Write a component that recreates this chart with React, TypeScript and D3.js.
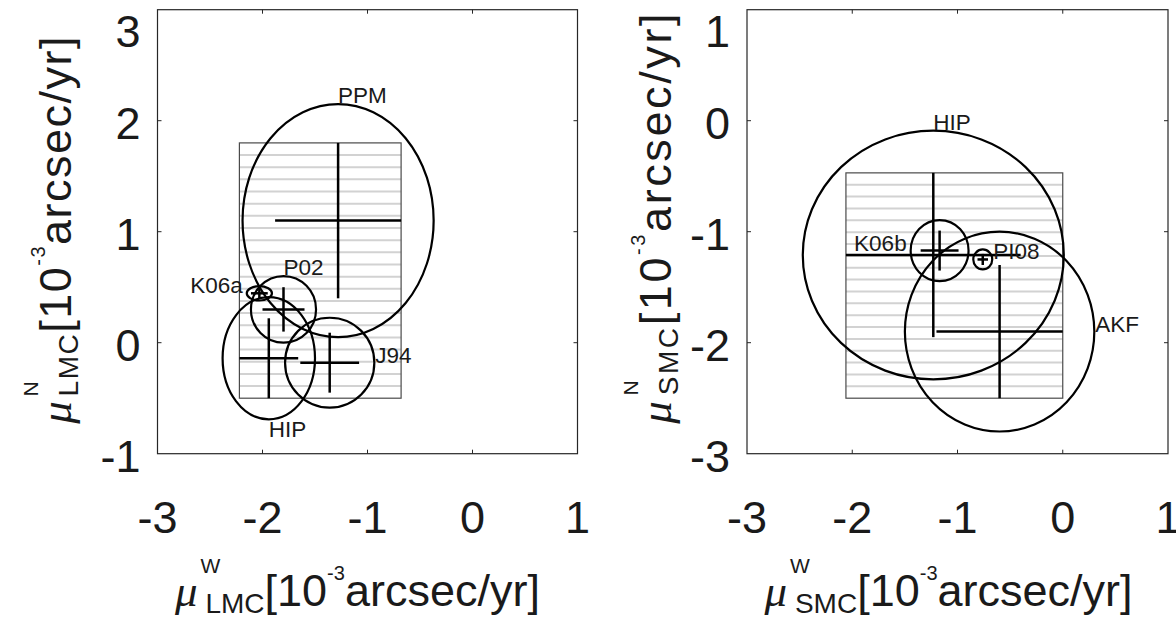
import React from "react";
import * as d3 from "d3";

// LMC proper-motion measurements (10^-3 arcsec/yr)
const lmcNames = ["PPM", "P02", "K06a", "HIP", "J94"];
const lmcW = [-1.28, -1.8, -2.03, -1.94, -1.36];
const lmcN = [1.1, 0.3, 0.445, -0.14, -0.18];
const lmcErrW = [0.6, 0.2, 0.08, 0.28, 0.28];
const lmcErrN = [0.7, 0.2, 0.045, 0.36, 0.27];
const lmcRadW = [0.91, 0.31, 0.12, 0.44, 0.425];
const lmcRadN = [1.05, 0.3, 0.065, 0.55, 0.405];
const lmcSide = ["top", "top", "left", "bottom", "right"];

// SMC
const smcNames = ["HIP", "K06b", "PI08", "AKF"];
const smcW = [-1.23, -1.17, -0.76, -0.6];
const smcN = [-1.21, -1.17, -1.25, -1.9];
const smcErrW = [0.83, 0.18, 0.05, 0.6];
const smcErrN = [0.74, 0.18, 0.05, 0.6];
const smcRadW = [1.24, 0.275, 0.09, 0.9];
const smcRadN = [1.12, 0.275, 0.09, 0.9];
const smcSide = ["top", "left", "right", "right"];

const xTicks = [-3, -2, -1, 0, 1];
const lmcYTicks = [-1, 0, 1, 2, 3];
const smcYTicks = [-3, -2, -1, 0, 1];

const SANS = "'Liberation Sans', Arial, Helvetica, sans-serif";
const INK = "#1a1a1a";

function AxisLabel({ x, y, sub, sup, rotate, spacing = 0 }) {
    return (
        <text
            transform={`translate(${x},${y})${rotate ? " rotate(-90)" : ""}`}
            fontSize={45}
            fontFamily={SANS}
            fill={INK}
            letterSpacing={spacing}
        >
            <tspan fontFamily="'Liberation Serif', serif" fontStyle="italic">
                μ
            </tspan>
            <tspan fontSize={21} dx={3} dy={-33}>
                {sup}
            </tspan>
            <tspan fontSize={28} dx={-15 - spacing} dy={40}>
                {sub}
            </tspan>
            <tspan dy={-7}>[10</tspan>
            <tspan fontSize={20} dy={-26}>
                -3
            </tspan>
            <tspan dy={26}>arcsec/yr]</tspan>
        </text>
    );
}

function Panel({ xRange, yDomain, yTicks, names, w, n, errW, errN, radW, radN, side, sub, yLabDx, yLabSp }) {
    const x = d3.scaleLinear().domain([-3, 1]).range(xRange);
    const y = d3.scaleLinear().domain(yDomain).range([453.7, 9.7]);
    const [x0, x1] = x.range();
    const [yb, yt] = y.range();

    const idx = d3.range(names.length);
    // shaded envelope of all error bars
    const bx0 = x(d3.min(idx, (i) => w[i] - errW[i]));
    const bx1 = x(d3.max(idx, (i) => w[i] + errW[i]));
    const by0 = y(d3.max(idx, (i) => n[i] + errN[i]));
    const by1 = y(d3.min(idx, (i) => n[i] - errN[i]));
    const nh = Math.round((by1 - by0) / 12);
    const hatch = d3.range(1, nh).map((k) => by0 + ((by1 - by0) * k) / nh);

    const label = (i) => {
        const cx = x(w[i]);
        const cy = y(n[i]);
        const rx = x(w[i] + radW[i]) - cx;
        const ry = cy - y(n[i] + radN[i]);
        if (side[i] === "top") return { tx: cx, ty: cy - ry - 1, anchor: "start" };
        if (side[i] === "bottom") return { tx: cx, ty: cy + ry + 18, anchor: "start" };
        if (side[i] === "left") return { tx: cx - rx - 4, ty: cy, anchor: "end" };
        return { tx: cx + rx + 1, ty: cy, anchor: "start" };
    };

    const inner = xTicks.filter((t) => t > -3 && t < 1);
    const innerY = yTicks.filter((t) => t > yDomain[0] && t < yDomain[1]);

    return (
        <g>
            {hatch.map((hy, k) => (
                <line key={k} x1={bx0} x2={bx1} y1={hy} y2={hy} stroke="#d2d2d2" strokeWidth={2} />
            ))}
            <rect x={bx0} y={by0} width={bx1 - bx0} height={by1 - by0} fill="none" stroke="#4a4a4a" strokeWidth={1.2} />

            {idx.map((i) => (
                <ellipse
                    key={"e" + i}
                    cx={x(w[i])}
                    cy={y(n[i])}
                    rx={x(w[i] + radW[i]) - x(w[i])}
                    ry={y(n[i]) - y(n[i] + radN[i])}
                    fill="none"
                    stroke="#000"
                    strokeWidth={2.2}
                />
            ))}
            {idx.map((i) => (
                <g key={"c" + i} stroke="#000" strokeWidth={2.5}>
                    <line x1={x(w[i] - errW[i])} x2={x(w[i] + errW[i])} y1={y(n[i])} y2={y(n[i])} />
                    <line x1={x(w[i])} x2={x(w[i])} y1={y(n[i] - errN[i])} y2={y(n[i] + errN[i])} />
                </g>
            ))}
            {idx.map((i) => {
                const l = label(i);
                return (
                    <text key={"t" + i} x={l.tx} y={l.ty} textAnchor={l.anchor} fontSize={22.5} fontFamily={SANS} fill={INK}>
                        {names[i]}
                    </text>
                );
            })}

            {/* axes box with inward ticks */}
            <rect x={x0} y={yt} width={x1 - x0} height={yb - yt} fill="none" stroke="#262626" strokeWidth={1.2} />
            {inner.map((t) => (
                <g key={"xt" + t} stroke="#262626" strokeWidth={1}>
                    <line x1={x(t)} x2={x(t)} y1={yb} y2={yb - 4} />
                    <line x1={x(t)} x2={x(t)} y1={yt} y2={yt + 4} />
                </g>
            ))}
            {innerY.map((t) => (
                <g key={"yt" + t} stroke="#262626" strokeWidth={1}>
                    <line x1={x0} x2={x0 + 4} y1={y(t)} y2={y(t)} />
                    <line x1={x1} x2={x1 - 4} y1={y(t)} y2={y(t)} />
                </g>
            ))}
            {xTicks.map((t) => (
                <text key={"xl" + t} x={x(t)} y={533} textAnchor="middle" fontSize={45} fontFamily={SANS} fill={INK}>
                    {t}
                </text>
            ))}
            {yTicks.map((t) => (
                <text
                    key={"yl" + t}
                    x={x0 - 17}
                    y={Math.max(y(t) + 2, yt + 21) + 16}
                    textAnchor="end"
                    fontSize={45}
                    fontFamily={SANS}
                    fill={INK}
                >
                    {t}
                </text>
            ))}
            <AxisLabel x={x0 + 17.5} y={606} sub={sub} sup="W" />
            <AxisLabel x={x0 - yLabDx} y={yb - 30} sub={sub} sup="N" rotate spacing={yLabSp} />
        </g>
    );
}

export default function App() {
    return (
        <div>
            <style>{`body{margin:0;background:#fff}`}</style>
            <svg width={1176} height={619} viewBox="0 0 1176 619" style={{ display: "block" }}>
                <rect width={1176} height={619} fill="#fff" />
                <Panel
                    xRange={[157.5, 577.5]}
                    yDomain={[-1, 3]}
                    yTicks={lmcYTicks}
                    names={lmcNames}
                    w={lmcW}
                    n={lmcN}
                    errW={lmcErrW}
                    errN={lmcErrN}
                    radW={lmcRadW}
                    radN={lmcRadN}
                    side={lmcSide}
                    sub="LMC"
                    yLabDx={87}
                    yLabSp={1.5}
                />
                <Panel
                    xRange={[747, 1168]}
                    yDomain={[-3, 1]}
                    yTicks={smcYTicks}
                    names={smcNames}
                    w={smcW}
                    n={smcN}
                    errW={smcErrW}
                    errN={smcErrN}
                    radW={smcRadW}
                    radN={smcRadN}
                    side={smcSide}
                    sub="SMC"
                    yLabDx={76}
                    yLabSp={2.6}
                />
            </svg>
        </div>
    );
}
